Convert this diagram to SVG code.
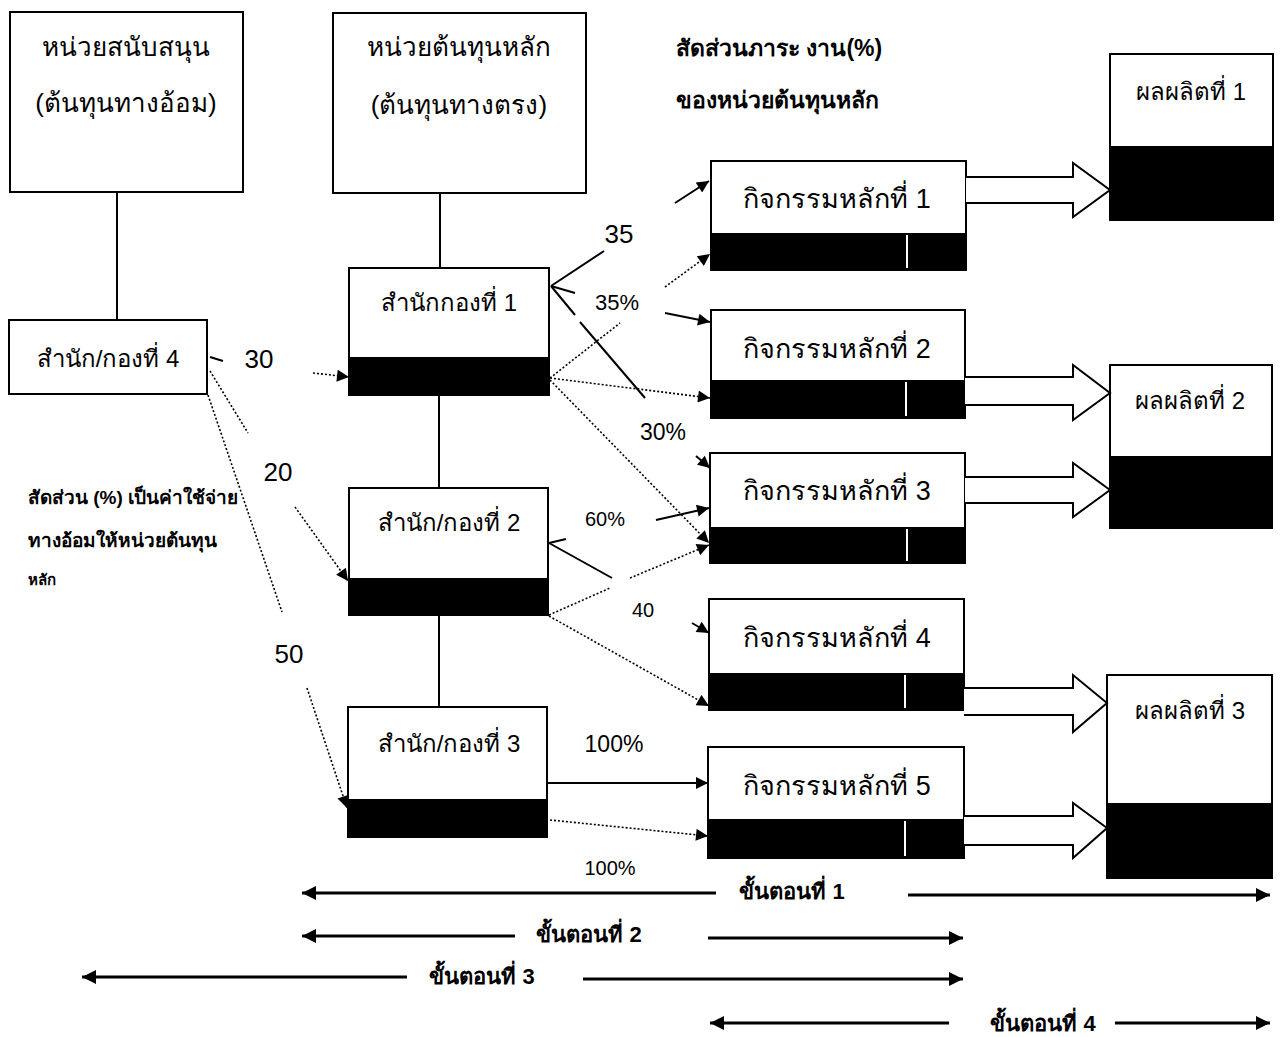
<svg xmlns="http://www.w3.org/2000/svg" width="1283" height="1037" viewBox="0 0 1283 1037">
<defs>
<style>
.box{fill:#fff;stroke:#000;stroke-width:2}
.band{fill:#000}
.wl{stroke:#fff;stroke-width:2}
.t{font-family:"Liberation Sans","Noto Sans",sans-serif;fill:#000;text-anchor:middle}
.tl{font-family:"Liberation Sans","Noto Sans",sans-serif;fill:#000}
.sl{stroke:#000;stroke-width:2;fill:none}
.dl{stroke:#000;stroke-width:1.6;fill:none;stroke-dasharray:2 2}
.step{stroke:#000;stroke-width:3;fill:none}
.blk{fill:#fff;stroke:#000;stroke-width:2;stroke-linejoin:miter}
</style>
<marker id="ah" viewBox="0 0 10 10" refX="10" refY="5" markerUnits="userSpaceOnUse" markerWidth="14" markerHeight="12" orient="auto">
<path d="M0,0 L10,5 L0,10 Z" fill="#000"/>
</marker>
<marker id="sh" viewBox="0 0 10 10" refX="10" refY="5" markerUnits="userSpaceOnUse" markerWidth="16" markerHeight="14" orient="auto">
<path d="M0,0 L10,5 L0,10 Z" fill="#000"/>
</marker>
</defs>

<g id="support-unit">
<rect class="box" x="10" y="12" width="233" height="180"/>
<text class="t" x="126" y="56" font-size="26">หน่วยสนับสนุน</text>
<text class="t" x="126" y="112" font-size="26">(ต้นทุนทางอ้อม)</text>
</g>
<g id="main-unit">
<rect class="box" x="333" y="13" width="253" height="180"/>
<text class="t" x="459" y="56" font-size="26">หน่วยต้นทุนหลัก</text>
<text class="t" x="459" y="114" font-size="26">(ต้นทุนทางตรง)</text>
</g>
<g id="ratio-label">
<text class="tl" x="676" y="56" font-size="23" font-weight="bold">สัดส่วนภาระ งาน(%)</text>
<text class="tl" x="676" y="108" font-size="23" font-weight="bold">ของหน่วยต้นทุนหลัก</text>
</g>
<g id="office4">
<rect class="box" x="9" y="320" width="198" height="74"/>
<text class="t" x="108" y="367" font-size="24">สำนัก/กองที่ 4</text>
</g>
<g id="office1">
<rect class="box" x="349" y="268" width="200" height="127"/>
<rect class="band" x="349" y="357" width="200" height="39"/>
<text class="t" x="449" y="311" font-size="24">สำนักกองที่ 1</text>
</g>
<g id="office2">
<rect class="box" x="349" y="488" width="199" height="127"/>
<rect class="band" x="349" y="578" width="199" height="38"/>
<text class="t" x="449" y="531" font-size="24">สำนัก/กองที่ 2</text>
</g>
<g id="office3">
<rect class="box" x="348" y="707" width="199" height="130"/>
<rect class="band" x="348" y="799" width="199" height="38"/>
<text class="t" x="449" y="752" font-size="24">สำนัก/กองที่ 3</text>
</g>

<g id="act1">
<rect class="box" x="711" y="161" width="255" height="109"/>
<rect class="band" x="711" y="233" width="255" height="37"/>
<line class="wl" x1="907" y1="235" x2="907" y2="268"/>
<text class="t" x="837" y="208" font-size="27">กิจกรรมหลักที่ 1</text>
</g>
<g id="act2">
<rect class="box" x="711" y="310" width="254" height="108"/>
<rect class="band" x="711" y="380" width="254" height="38"/>
<line class="wl" x1="906" y1="382" x2="906" y2="416"/>
<text class="t" x="837" y="358" font-size="27">กิจกรรมหลักที่ 2</text>
</g>
<g id="act3">
<rect class="box" x="710" y="453" width="255" height="110"/>
<rect class="band" x="710" y="527" width="255" height="36"/>
<line class="wl" x1="907" y1="529" x2="907" y2="561"/>
<text class="t" x="837" y="500" font-size="27">กิจกรรมหลักที่ 3</text>
</g>
<g id="act4">
<rect class="box" x="709" y="599" width="255" height="111"/>
<rect class="band" x="709" y="673" width="255" height="37"/>
<line class="wl" x1="905" y1="675" x2="905" y2="708"/>
<text class="t" x="837" y="647" font-size="27">กิจกรรมหลักที่ 4</text>
</g>
<g id="act5">
<rect class="box" x="708" y="747" width="256" height="111"/>
<rect class="band" x="708" y="819" width="256" height="39"/>
<line class="wl" x1="905" y1="821" x2="905" y2="856"/>
<text class="t" x="837" y="795" font-size="27">กิจกรรมหลักที่ 5</text>
</g>

<g id="product1">
<rect class="box" x="1110" y="54" width="163" height="166"/>
<rect class="band" x="1110" y="146" width="163" height="74"/>
<text class="t" x="1191" y="100" font-size="24">ผลผลิตที่ 1</text>
</g>
<g id="product2">
<rect class="box" x="1110" y="365" width="162" height="163"/>
<rect class="band" x="1110" y="456" width="162" height="72"/>
<text class="t" x="1190" y="409" font-size="24">ผลผลิตที่ 2</text>
</g>
<g id="product3">
<rect class="box" x="1107" y="675" width="165" height="203"/>
<rect class="band" x="1107" y="803" width="165" height="75"/>
<text class="t" x="1190" y="719" font-size="24">ผลผลิตที่ 3</text>
</g>

<g id="connectors">
<line class="sl" x1="117" y1="192" x2="117" y2="320"/>
<line class="sl" x1="440" y1="193" x2="440" y2="268"/>
<line class="sl" x1="439" y1="396" x2="439" y2="488"/>
<line class="sl" x1="439" y1="616" x2="439" y2="707"/>

<path class="blk" d="M966,177 L1073,177 L1073,163 L1110,190 L1073,217 L1073,203 L966,203"/>
<path class="blk" d="M965,377 L1073,377 L1073,365 L1110,393 L1073,420 L1073,405 L965,405"/>
<path class="blk" d="M965,477 L1073,477 L1073,463 L1110,490 L1073,517 L1073,503 L965,503"/>
<path class="blk" d="M964,688 L1073,688 L1073,675 L1107,703 L1073,732 L1073,715 L964,715"/>
<path class="blk" d="M964,816 L1073,816 L1073,803 L1107,828 L1073,858 L1073,845 L964,845"/>

<line class="sl" x1="210" y1="357" x2="223" y2="361" stroke-width="1.5"/>
<line class="dl" x1="313" y1="373" x2="349" y2="377" marker-end="url(#ah)"/>
<line class="dl" x1="210" y1="371" x2="248" y2="433"/>
<line class="dl" x1="295" y1="507" x2="348" y2="581" marker-end="url(#ah)"/>
<line class="dl" x1="208" y1="395" x2="282" y2="612"/>
<line class="dl" x1="307" y1="688" x2="347" y2="808" marker-end="url(#ah)"/>

<line class="sl" x1="551" y1="286" x2="604" y2="251"/>
<line class="sl" x1="675" y1="203" x2="709" y2="181" marker-end="url(#ah)"/>
<line class="sl" x1="551" y1="286" x2="575" y2="293"/>
<line class="sl" x1="665" y1="313" x2="710" y2="322" marker-end="url(#ah)"/>
<line class="sl" x1="551" y1="286" x2="575" y2="315"/>
<line class="sl" x1="580" y1="322" x2="645" y2="398"/>
<line class="sl" x1="696" y1="456" x2="710" y2="468" marker-end="url(#ah)"/>
<line class="dl" x1="550" y1="378" x2="620" y2="323"/>
<line class="dl" x1="665" y1="287" x2="710" y2="254" marker-end="url(#ah)"/>
<line class="dl" x1="550" y1="378" x2="710" y2="398" marker-end="url(#ah)"/>
<line class="dl" x1="550" y1="380" x2="709" y2="543" marker-end="url(#ah)"/>

<line class="sl" x1="549" y1="543" x2="566" y2="539"/>
<line class="sl" x1="549" y1="543" x2="612" y2="578"/>
<line class="sl" x1="656" y1="520" x2="709" y2="508" marker-end="url(#ah)"/>
<line class="dl" x1="549" y1="615" x2="610" y2="588"/>
<line class="dl" x1="630" y1="578" x2="709" y2="545" marker-end="url(#ah)"/>
<line class="dl" x1="549" y1="616" x2="709" y2="706" marker-end="url(#ah)"/>
<line class="sl" x1="692" y1="623" x2="709" y2="633" marker-end="url(#ah)"/>

<line class="sl" x1="548" y1="783" x2="708" y2="783" stroke-width="1.5" marker-end="url(#ah)"/>
<line class="dl" x1="550" y1="820" x2="708" y2="836" marker-end="url(#ah)"/>

<line class="step" x1="716" y1="893" x2="302" y2="893" marker-end="url(#sh)"/>
<line class="step" x1="908" y1="895" x2="1270" y2="895" marker-end="url(#sh)"/>
<line class="step" x1="515" y1="936" x2="302" y2="936" marker-end="url(#sh)"/>
<line class="step" x1="708" y1="938" x2="963" y2="938" marker-end="url(#sh)"/>
<line class="step" x1="407" y1="977" x2="82" y2="977" marker-end="url(#sh)"/>
<line class="step" x1="583" y1="979" x2="963" y2="979" marker-end="url(#sh)"/>
<line class="step" x1="949" y1="1023" x2="710" y2="1023" marker-end="url(#sh)"/>
<line class="step" x1="1115" y1="1023" x2="1270" y2="1023" marker-end="url(#sh)"/>
</g>

<g id="labels">
<text class="t" x="259" y="368" font-size="26">30</text>
<text class="t" x="278" y="481" font-size="26">20</text>
<text class="t" x="289" y="663" font-size="26">50</text>
<text class="t" x="619" y="243" font-size="26">35</text>
<text class="t" x="617" y="310" font-size="22">35%</text>
<text class="t" x="663" y="440" font-size="23">30%</text>
<text class="t" x="605" y="526" font-size="20">60%</text>
<text class="t" x="643" y="617" font-size="20">40</text>
<text class="t" x="614" y="752" font-size="23">100%</text>
<text class="t" x="610" y="875" font-size="20">100%</text>
<text class="tl" x="28" y="504" font-size="19" font-weight="bold">สัดส่วน (%) เป็นค่าใช้จ่าย</text>
<text class="tl" x="28" y="547" font-size="19" font-weight="bold">ทางอ้อมให้หน่วยต้นทุน</text>
<text class="tl" x="28" y="585" font-size="15" font-weight="bold">หลัก</text>
<text class="t" x="792" y="899" font-size="22" font-weight="bold">ขั้นตอนที่ 1</text>
<text class="t" x="589" y="942" font-size="22" font-weight="bold">ขั้นตอนที่ 2</text>
<text class="t" x="482" y="984" font-size="22" font-weight="bold">ขั้นตอนที่ 3</text>
<text class="t" x="1043" y="1031" font-size="22" font-weight="bold">ขั้นตอนที่ 4</text>
</g>
</svg>
